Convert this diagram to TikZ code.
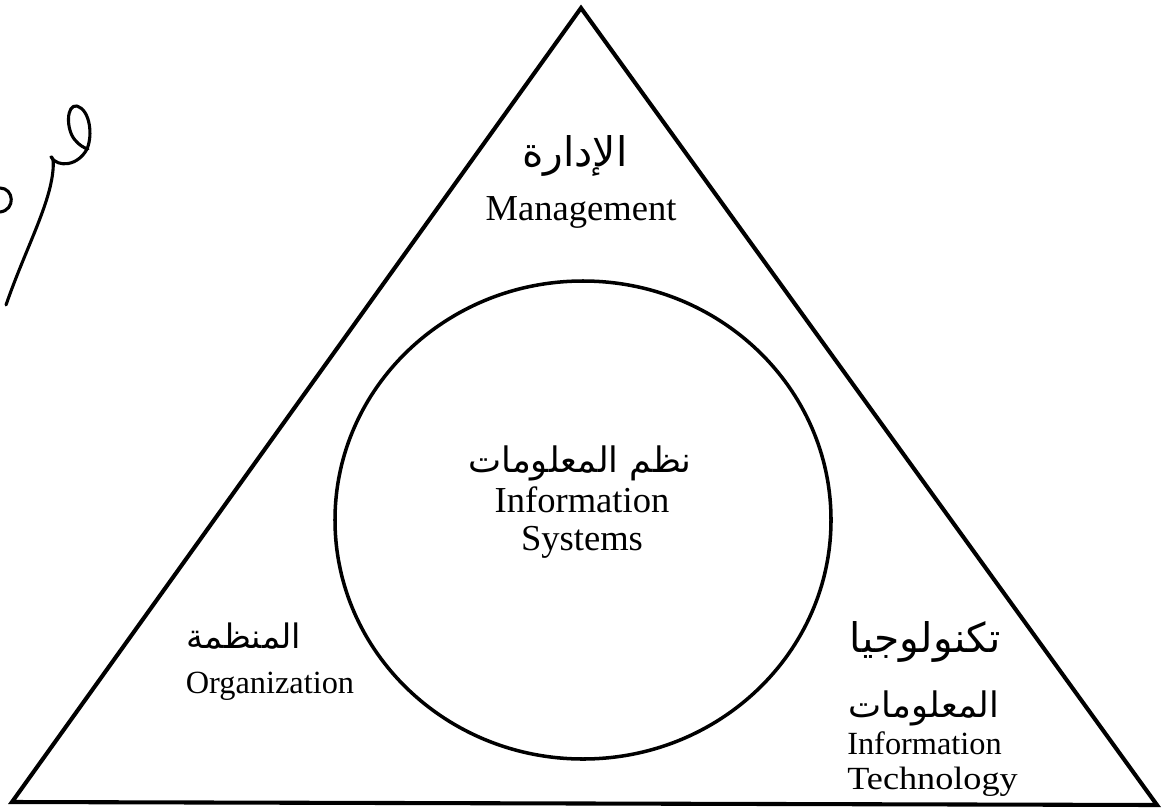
\documentclass[tikz,border=0pt]{standalone}
\usepackage{fontspec}
\setmainfont{Liberation Serif}
\newfontfamily\arabicfont[Script=Arabic]{DejaVu Sans}
\TeXXeTstate=1
\begin{document}
\begin{tikzpicture}[x=0.025cm,y=-0.025cm,
  edge/.style={line width=2.9pt,line join=miter},
  ring/.style={line width=2.5pt},
  pen/.style={line width=2.2pt,line cap=round,line join=round},
  lab/.style={inner sep=0pt,align=center,font=\fontsize{26}{27}\selectfont},
  labsm/.style={inner sep=0pt,align=left,font=\fontsize{23}{25}\selectfont},
  ar/.style={inner sep=0pt,font=\fontsize{#1}{26}\arabicfont},
  ar/.default=22]
\useasboundingbox (0,0) rectangle (1164,809);
% triangle
\coordinate (apex) at (581,8);
\coordinate (bl) at (12,802);
\coordinate (br) at (1157,805);
\draw[edge] (apex) -- (br) -- (bl) -- cycle;
% circle
\coordinate (cc) at (583,520);
\draw[ring] (cc) ellipse [x radius=248, y radius=239];
% labels
\node[ar=29] (mgmtAr) at (575,156) {\beginR الإدارة\endR};
\node[lab] (mgmt) at (581,212) {Management};
\node[ar=25] (isAr) at (580,463) {\beginR نظم المعلومات\endR};
\node[lab] (is) at (582,523) {Information\\Systems};
\node[ar=24] (orgAr) at (244,636) {\beginR المنظمة\endR};
\node[labsm] (org) at (270,686) {Organization};
\node[ar=29] (itAr1) at (925,642) {\beginR تكنولوجيا\endR};
\node[ar=25] (itAr2) at (924,708) {\beginR المعلومات\endR};
\node[labsm,anchor=north west] (it) at (847,731) {Information\\\scalebox{1.12}[1]{Technology}};
% handwritten pen mark
\draw[pen] (6,305) .. controls (25,250) and (50,205) .. (53,170)
  .. controls (54,160) and (52,156) .. (51,157)
  .. controls (58,168) and (78,166) .. (87,149)
  .. controls (93,135) and (90,110) .. (77,106)
  .. controls (66,104) and (66,130) .. (75,140)
  .. controls (79,145) and (84,148) .. (88,149);
\draw[pen] (0,188) .. controls (14,188) and (16,210) .. (0,212);
\end{tikzpicture}
\end{document}
